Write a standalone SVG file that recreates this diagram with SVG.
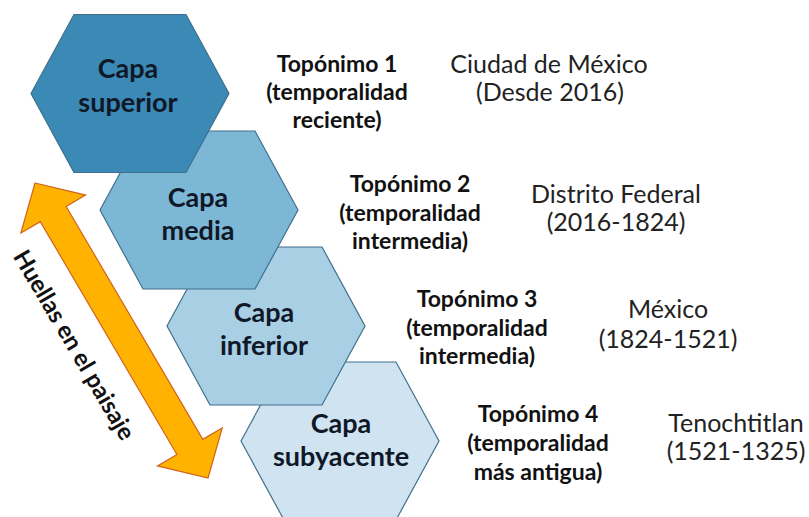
<svg xmlns="http://www.w3.org/2000/svg" width="809" height="517" viewBox="0 0 809 517">
<defs>
<style>
.hex{stroke:#3F6F8C;stroke-width:1.2}
.h1{fill:#3A8AB5}
.h2{fill:#7DB7D6}
.h3{fill:#A8CFE4}
.h4{fill:#CFE4F0}
.hl{font-family:Lato,"Liberation Sans",sans-serif;font-weight:700;font-size:27px;fill:#101828;text-anchor:middle}
.tb{font-family:Lato,"Liberation Sans",sans-serif;font-weight:700;font-size:23px;fill:#111;text-anchor:middle}
.tr{font-family:Lato,"Liberation Sans",sans-serif;font-weight:400;font-size:25px;fill:#222;text-anchor:middle}
.arw{fill:#FFB300;stroke:#D0641C;stroke-width:1.2;stroke-linejoin:miter}
.lab{font-family:Lato,"Liberation Sans",sans-serif;font-weight:700;font-size:24px;fill:#111;text-anchor:middle}
</style>
<polygon id="hx" points="-99,0 -56,-79 56,-79 99,0 56,79 -56,79"/>
</defs>
<rect width="809" height="517" fill="#fff"/>
<g id="hex4">
<use href="#hx" class="hex h4" transform="translate(340,441)"/>
<text class="hl" x="341" y="433">Capa</text>
<text class="hl" x="341" y="466">subyacente</text>
</g>
<g id="hex3">
<use href="#hx" class="hex h3" transform="translate(266,326)"/>
<text class="hl" x="264" y="322">Capa</text>
<text class="hl" x="264" y="355">inferior</text>
</g>
<g id="hex2">
<use href="#hx" class="hex h2" transform="translate(199,210)"/>
<text class="hl" x="198" y="207">Capa</text>
<text class="hl" x="198" y="240">media</text>
</g>
<g id="hex1">
<use href="#hx" class="hex h1" transform="translate(130,93.5)"/>
<text class="hl" x="128" y="78">Capa</text>
<text class="hl" x="128" y="112">superior</text>
</g>
<g id="connectors">
<polygon class="arw" transform="translate(35,183) rotate(59.6)" points="0,0 36,-37.5 36,-15 306,-15 306,-37.5 342,0 306,37.5 306,15 36,15 36,37.5"/>
</g>
<g id="label-huellas">
<text class="lab" transform="translate(74,345) rotate(59.6)" x="0" y="8">Huellas en el paisaje</text>
</g>
<g id="toponimo1">
<text class="tb" x="337" y="72">Topónimo 1</text>
<text class="tb" x="337" y="100">(temporalidad</text>
<text class="tb" x="337" y="128">reciente)</text>
</g>
<g id="toponimo2">
<text class="tb" x="410" y="192">Topónimo 2</text>
<text class="tb" x="410" y="221">(temporalidad</text>
<text class="tb" x="410" y="249">intermedia)</text>
</g>
<g id="toponimo3">
<text class="tb" x="477" y="307">Topónimo 3</text>
<text class="tb" x="477" y="336">(temporalidad</text>
<text class="tb" x="477" y="364">intermedia)</text>
</g>
<g id="toponimo4">
<text class="tb" x="538" y="422">Topónimo 4</text>
<text class="tb" x="538" y="451">(temporalidad</text>
<text class="tb" x="538" y="480">más antigua)</text>
</g>
<g id="nombre1">
<text class="tr" x="549" y="73">Ciudad de México</text>
<text class="tr" x="550" y="101">(Desde 2016)</text>
</g>
<g id="nombre2">
<text class="tr" x="616" y="203">Distrito Federal</text>
<text class="tr" x="616" y="231">(2016-1824)</text>
</g>
<g id="nombre3">
<text class="tr" x="668" y="318">México</text>
<text class="tr" x="668" y="348">(1824-1521)</text>
</g>
<g id="nombre4">
<text class="tr" x="736" y="432">Tenochtitlan</text>
<text class="tr" x="736" y="460">(1521-1325)</text>
</g>
</svg>
